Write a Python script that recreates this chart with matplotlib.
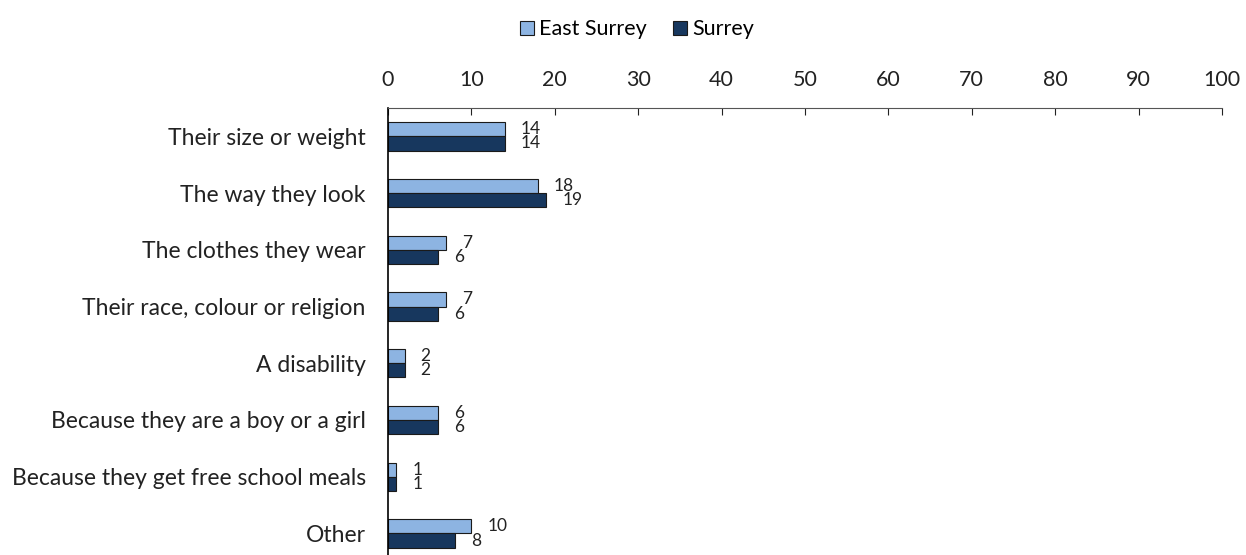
import numpy as np
import matplotlib.pyplot as plt

plt.rcParams['font.family'] = ['Lato', 'DejaVu Sans']

categories = ['Their size or weight', 'The way they look', 'The clothes they wear',
              'Their race, colour or religion', 'A disability',
              'Because they are a boy or a girl', 'Because they get free school meals',
              'Other']
east_surrey = [14, 18, 7, 7, 2, 6, 1, 10]
surrey = [14, 19, 6, 6, 2, 6, 1, 8]

fig = plt.figure(figsize=(12.46, 5.55), dpi=100)
ax = fig.add_axes([0.3114, 0.0, 0.9807 - 0.3114, 0.8054])

y = np.arange(len(categories))
h = 0.25
b1 = ax.barh(y - h / 2, east_surrey, height=h, color='#8db4e2', edgecolor='#1a1a1a',
             linewidth=0.8, label='East Surrey')
b2 = ax.barh(y + h / 2, surrey, height=h, color='#17375e', edgecolor='#1a1a1a',
             linewidth=0.8, label='Surrey')

# value labels just right of each bar
for bars, vals in ((b1, east_surrey), (b2, surrey)):
    for bar, v in zip(bars, vals):
        ax.annotate(str(v), (bar.get_width(), bar.get_y() + bar.get_height() / 2),
                    xytext=(11.5, 0), textcoords='offset points', va='center',
                    ha='left', fontsize=12.5, color='#222222')

ax.set_xlim(0, 100)
ax.set_ylim(7.38, -0.5)
ax.set_xticks(range(0, 101, 10))
ax.set_yticks(y)
ax.set_yticklabels(categories)
ax.xaxis.tick_top()
ax.tick_params(axis='x', direction='in', length=5, width=0.8, labelsize=15.5, pad=13,
               colors='#222222')
ax.tick_params(axis='y', length=0, labelsize=16.5, pad=16, colors='#222222')
for s in ('right', 'bottom'):
    ax.spines[s].set_visible(False)
ax.spines['left'].set_linewidth(1.2)
ax.spines['top'].set_linewidth(0.8)
ax.spines['top'].set_color('#555555')

fig.legend(handles=[b1, b2], loc='center', bbox_to_anchor=(0.511, 0.947), ncol=2,
           frameon=False, fontsize=15.5, handlelength=0.65, handleheight=0.65,
           handletextpad=0.25, columnspacing=1.2)

fig.savefig('out.png', dpi=100)
